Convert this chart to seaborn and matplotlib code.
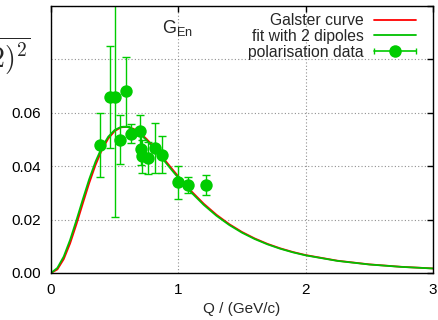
import matplotlib
matplotlib.use("Agg")
import matplotlib.pyplot as plt
import seaborn as sns
import pandas as pd
from matplotlib.lines import Line2D
from matplotlib.legend_handler import HandlerBase

# ---------------- data ----------------
q_curve = [0.0, 0.05, 0.10, 0.15, 0.20, 0.25, 0.30, 0.35, 0.40, 0.45, 0.50,
           0.55, 0.60, 0.65, 0.70, 0.75, 0.80, 0.85, 0.90, 0.95, 1.00,
           1.10, 1.20, 1.30, 1.40, 1.50, 1.60, 1.70, 1.80, 1.90, 2.00,
           2.25, 2.50, 2.75, 3.00]
galster = [0.0, 0.00134, 0.00520, 0.01109, 0.01831, 0.02609, 0.03369, 0.04051,
           0.04615, 0.05038, 0.05316, 0.05456, 0.05476, 0.05396, 0.05237,
           0.05021, 0.04766, 0.04487, 0.04196, 0.03904, 0.03616,
           0.03074, 0.02593, 0.02179, 0.01829, 0.01536, 0.01293, 0.01091,
           0.00924, 0.00786, 0.00671, 0.00460, 0.00323, 0.00232, 0.00171]
fit_2dip = [0.0, 0.00190, 0.00617, 0.01240, 0.01981, 0.02763, 0.03513, 0.04176,
            0.04713, 0.05108, 0.05357, 0.05472, 0.05470, 0.05372, 0.05200,
            0.04974, 0.04712, 0.04430, 0.04138, 0.03846, 0.03560,
            0.03023, 0.02548, 0.02141, 0.01797, 0.01509, 0.01271, 0.01073,
            0.00909, 0.00773, 0.00660, 0.00453, 0.00318, 0.00229, 0.00169]

q_data = [0.384, 0.463, 0.502, 0.586, 0.541, 0.630, 0.698, 0.703, 0.711,
          0.763, 0.816, 0.873, 1.000, 1.077, 1.216]
g_data = [0.0480, 0.0660, 0.0660, 0.0680, 0.0500, 0.0522, 0.0530, 0.0464,
          0.0437, 0.0430, 0.0468, 0.0443, 0.0339, 0.0330, 0.0330]
g_err = [0.0120, 0.0190, 0.0450, 0.0128, 0.0090, 0.0036, 0.0060, 0.0060,
         0.0063, 0.0060, 0.0093, 0.0069, 0.0060, 0.0031, 0.0037]

x_ticks = [0, 1, 2, 3]
x_ticklabels = ["0", "1", "2", "3"]
y_ticks = [0.00, 0.02, 0.04, 0.06, 0.08, 0.10]
y_ticklabels = ["0.00", "0.02", "0.04", "0.06", "", ""]

legend_labels = ["Galster curve", "fit with 2 dipoles", "polarisation data"]

RED = "#ff0000"
GREEN_LINE = "#00c000"
GREEN = "#00cc00"

# ---------------- style ----------------
sns.set_style("white")
plt.rcParams["font.family"] = ["Liberation Sans", "DejaVu Sans"]
plt.rcParams["mathtext.fontset"] = "custom"
plt.rcParams["mathtext.rm"] = "Liberation Sans"
plt.rcParams["mathtext.it"] = "Liberation Sans:italic"
plt.rcParams["mathtext.bf"] = "Liberation Sans:bold"

fig = plt.figure(figsize=(4.39, 3.20), dpi=100)
ax = fig.add_axes([51 / 439, 1 - 273 / 320, (433 - 51) / 439, (273 - 6) / 320])

curves = pd.DataFrame({"Q": q_curve, "galster": galster, "fit": fit_2dip})
points = pd.DataFrame({"Q": q_data, "G": g_data, "err": g_err})

sns.lineplot(data=curves, x="Q", y="galster", color=RED, linewidth=1.3,
             ax=ax, legend=False, zorder=3)
sns.lineplot(data=curves, x="Q", y="fit", color=GREEN_LINE, linewidth=1.3,
             ax=ax, legend=False, zorder=4)
ax.errorbar(points["Q"], points["G"], yerr=points["err"], fmt="none",
            ecolor=GREEN, elinewidth=1.0, capsize=3, capthick=1.0, zorder=5)
sns.scatterplot(data=points, x="Q", y="G", color=GREEN, s=80, linewidth=0,
                ax=ax, legend=False, zorder=6)

ax.set_xlim(0, 3)
ax.set_ylim(0, 0.10)
ax.set_xticks(x_ticks)
ax.set_xticklabels(x_ticklabels)
ax.set_yticks(y_ticks)
ax.set_yticklabels(y_ticklabels)
ax.tick_params(direction="in", length=4, width=1, top=True, right=True,
               labelsize=11, colors="black", pad=7)
ax.grid(True, color="#909090", linestyle=(0, (1, 2)), linewidth=0.8)
for s in ax.spines.values():
    s.set_color("black")
    s.set_linewidth(1.0)
    s.set_zorder(10)

ax.set_xlabel("Q / (GeV/c)", fontsize=11, labelpad=4)
ax.set_ylabel("")

# label inside plot
ax.text(162 / 439, 1 - 33 / 320, r"G$_{\mathrm{En}}$", fontsize=13,
        transform=fig.transFigure, ha="left", va="baseline")

# y-axis formula label (partially off the canvas, as in the reference)
fig.text(30 / 439, 1 - 68 / 320, r"$\overline{(1+Q^2/2)^2}$", fontsize=20,
         math_fontfamily="cm", ha="right", va="baseline")


# ---------------- legend ----------------
class DataKey:
    pass


class HandlerDataKey(HandlerBase):
    def create_artists(self, legend, orig_handle, xdescent, ydescent,
                       width, height, fontsize, trans):
        y = height / 2 - ydescent
        x0, x1 = -xdescent, width - xdescent
        line = Line2D([x0, x1], [y, y], color=GREEN, lw=1.2)
        caps = Line2D([x0, x1], [y, y], marker="|", ls="none",
                      markersize=4, markeredgewidth=1.0, color=GREEN)
        dot = Line2D([(x0 + x1) / 2], [y], marker="o", ls="none",
                     markersize=9, color=GREEN, markeredgewidth=0)
        for a in (line, caps, dot):
            a.set_transform(trans)
        return [line, caps, dot]


handles = [Line2D([], [], color=RED, lw=1.3),
           Line2D([], [], color=GREEN_LINE, lw=1.3),
           DataKey()]
leg = ax.legend(handles, legend_labels, handler_map={DataKey: HandlerDataKey()},
                loc="upper right", bbox_to_anchor=(416 / 439, 1 - 13 / 320),
                bbox_transform=fig.transFigure, frameon=False,
                markerfirst=False, fontsize=11.3, handlelength=2.7,
                handletextpad=0.65, labelspacing=0.05, borderpad=0,
                borderaxespad=0)
for t in leg.get_texts():
    t.set_ha("right")

fig.savefig("out.png", dpi=100)
